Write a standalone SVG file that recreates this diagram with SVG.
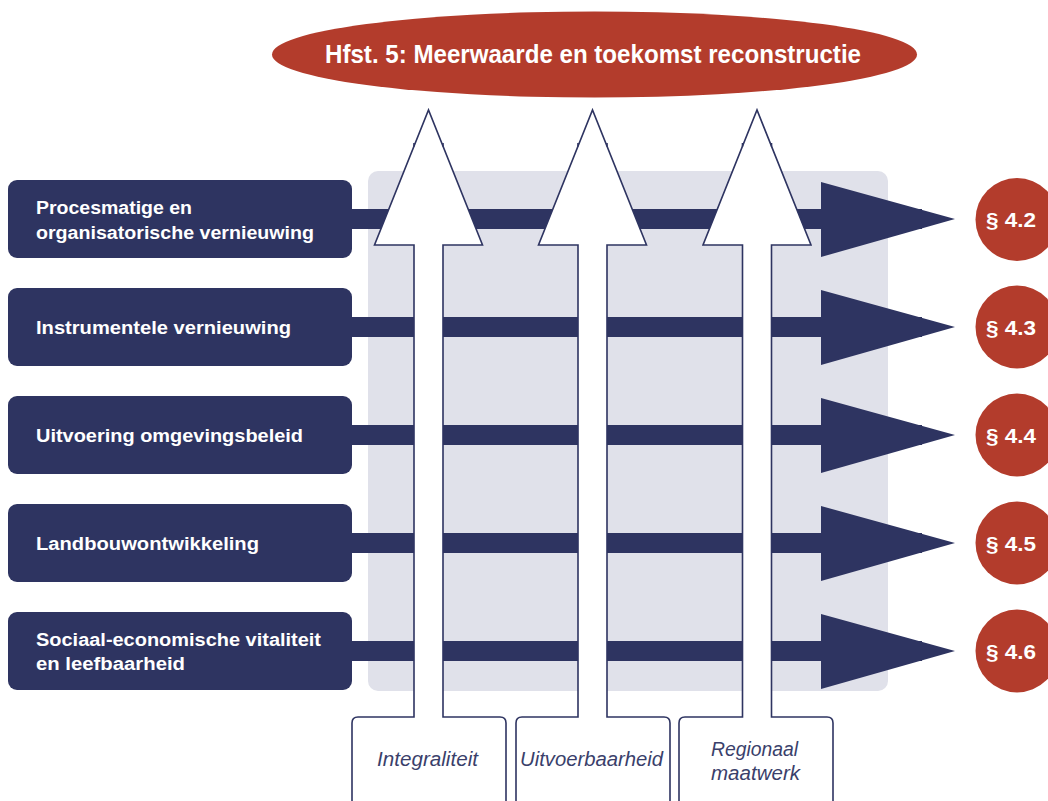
<svg xmlns="http://www.w3.org/2000/svg" width="1048" height="801" viewBox="0 0 1048 801">
<style>
.box{fill:#2e3461}
.bt{font-family:"Liberation Sans",Arial,sans-serif;font-weight:bold;font-size:18px;fill:#ffffff}
.red{fill:#b33c2c}
.ct{font-family:"Liberation Sans",Arial,sans-serif;font-weight:bold;font-size:21px;fill:#ffffff;text-anchor:middle}
.bar{fill:#2e3461}
.up{fill:#ffffff;stroke:#2e3461;stroke-width:1.6;stroke-linejoin:miter}
.tick{fill:none;stroke:#2e3461;stroke-width:1.6}
.lt{font-family:"Liberation Sans",Arial,sans-serif;font-style:italic;font-size:20px;fill:#3a3f6b;text-anchor:middle}
</style>
<rect width="1048" height="801" fill="#ffffff"/>
<rect id="panel" x="368" y="171" width="520" height="520" rx="10" fill="#e0e1ea"/>

<g id="title">
<ellipse cx="594.5" cy="54.5" rx="322.5" ry="43" class="red"/>
<text x="593" y="63" class="ct" textLength="536" lengthAdjust="spacingAndGlyphs" style="font-size:25px">Hfst. 5: Meerwaarde en toekomst reconstructie</text>
</g>

<g id="connectors">
<rect class="bar" x="352" y="209" width="570" height="20"/>
<polygon class="bar" points="821,182 955,219 821,257"/>
<rect class="bar" x="352" y="317" width="570" height="20"/>
<polygon class="bar" points="821,290 955,327 821,365"/>
<rect class="bar" x="352" y="425" width="570" height="20"/>
<polygon class="bar" points="821,398 955,435 821,473"/>
<rect class="bar" x="352" y="533" width="570" height="20"/>
<polygon class="bar" points="821,506 955,543 821,581"/>
<rect class="bar" x="352" y="641" width="570" height="20"/>
<polygon class="bar" points="821,614 955,651 821,689"/>
</g>

<g id="box1">
<rect class="box" x="8" y="180" width="344" height="78" rx="9"/>
<text class="bt" x="36" y="214" textLength="156" lengthAdjust="spacingAndGlyphs">Procesmatige en</text>
<text class="bt" x="36" y="239" textLength="278" lengthAdjust="spacingAndGlyphs">organisatorische vernieuwing</text>
</g>
<g id="box2">
<rect class="box" x="8" y="288" width="344" height="78" rx="9"/>
<text class="bt" x="36" y="334" textLength="255" lengthAdjust="spacingAndGlyphs">Instrumentele vernieuwing</text>
</g>
<g id="box3">
<rect class="box" x="8" y="396" width="344" height="78" rx="9"/>
<text class="bt" x="36" y="442" textLength="267" lengthAdjust="spacingAndGlyphs">Uitvoering omgevingsbeleid</text>
</g>
<g id="box4">
<rect class="box" x="8" y="504" width="344" height="78" rx="9"/>
<text class="bt" x="36" y="550" textLength="223" lengthAdjust="spacingAndGlyphs">Landbouwontwikkeling</text>
</g>
<g id="box5">
<rect class="box" x="8" y="612" width="344" height="78" rx="9"/>
<text class="bt" x="36" y="646" textLength="285" lengthAdjust="spacingAndGlyphs">Sociaal-economische vitaliteit</text>
<text class="bt" x="36" y="670" textLength="149" lengthAdjust="spacingAndGlyphs">en leefbaarheid</text>
</g>

<g id="c42"><circle class="red" cx="1017" cy="219.5" r="41.5"/><text class="ct" x="1011" y="226.5" textLength="50" lengthAdjust="spacingAndGlyphs">§ 4.2</text></g>
<g id="c43"><circle class="red" cx="1017" cy="327" r="41.5"/><text class="ct" x="1011" y="334.5" textLength="50" lengthAdjust="spacingAndGlyphs">§ 4.3</text></g>
<g id="c44"><circle class="red" cx="1017" cy="435" r="41.5"/><text class="ct" x="1011" y="442.5" textLength="50" lengthAdjust="spacingAndGlyphs">§ 4.4</text></g>
<g id="c45"><circle class="red" cx="1017" cy="543" r="41.5"/><text class="ct" x="1011" y="550.5" textLength="50" lengthAdjust="spacingAndGlyphs">§ 4.5</text></g>
<g id="c46"><circle class="red" cx="1017" cy="651" r="41.5"/><text class="ct" x="1011" y="658.5" textLength="50" lengthAdjust="spacingAndGlyphs">§ 4.6</text></g>

<g id="integraliteit">
<path class="up" d="M352,806 V723 Q352,717 358,717 H414 V245 H374.5 L428.5,110 L482.5,245 H443 V717 H500 Q506,717 506,723 V806"/>
<path class="tick" d="M414,143 V146.5 M443,143 V146.5"/>
<text class="lt" x="427.5" y="766" textLength="101" lengthAdjust="spacingAndGlyphs">Integraliteit</text>
</g>
<g id="uitvoerbaarheid">
<path class="up" d="M516,806 V723 Q516,717 522,717 H578 V245 H538.5 L592.5,110 L646.5,245 H607 V717 H664 Q670,717 670,723 V806"/>
<path class="tick" d="M578,143 V146.5 M607,143 V146.5"/>
<text class="lt" x="591.5" y="766" textLength="143" lengthAdjust="spacingAndGlyphs">Uitvoerbaarheid</text>
</g>
<g id="regionaal">
<path class="up" d="M679,806 V723 Q679,717 685,717 H742.5 V245 H703 L757,110 L811,245 H771.5 V717 H827 Q833,717 833,723 V806"/>
<path class="tick" d="M742.5,143 V146.5 M771.5,143 V146.5"/>
<text class="lt" x="754.5" y="756" textLength="87" lengthAdjust="spacingAndGlyphs">Regionaal</text>
<text class="lt" x="755.5" y="780" textLength="89" lengthAdjust="spacingAndGlyphs">maatwerk</text>
</g>
</svg>
